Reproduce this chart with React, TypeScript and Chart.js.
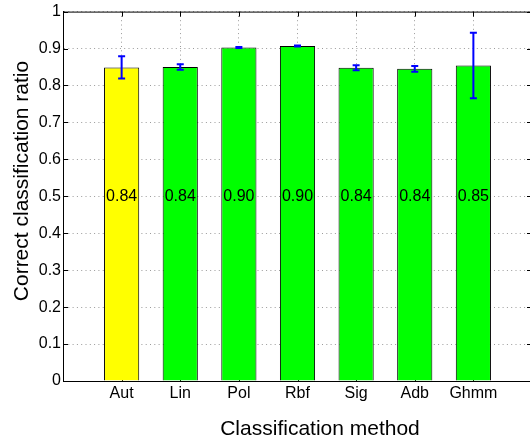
import React, { useEffect, useRef } from 'react';
import { Chart, registerables } from 'chart.js';

Chart.register(...registerables);

// ---- data ----
const categories = ['Aut', 'Lin', 'Pol', 'Rbf', 'Sig', 'Adb', 'Ghmm'];
const ratios = [0.849, 0.850, 0.903, 0.907, 0.848, 0.845, 0.854];
const errors = [0.030, 0.0075, 0.0015, 0.0015, 0.007, 0.0075, 0.0885];
const valueLabels = ['0.84', '0.84', '0.90', '0.90', '0.84', '0.84', '0.85'];
const barColors = ['#ffff00', '#00ff00', '#00ff00', '#00ff00', '#00ff00', '#00ff00', '#00ff00'];
const xTitle = 'Classification method';
const yTitle = 'Correct classification ratio';
const labelLevel = 0.5;

const FONT = '"Liberation Sans", Arial, Helvetica, sans-serif';

const framePlugin = {
  id: 'matlabFrame',
  beforeDatasetsDraw(chart: any) {
    const { ctx, chartArea, scales } = chart;
    const { left, right, top, bottom } = chartArea;
    const xs = scales.x;
    const ys = scales.y;
    const tl = 5;
    ctx.save();
    ctx.strokeStyle = '#000';
    ctx.lineWidth = 1;
    ctx.beginPath();
    ctx.moveTo(left, top + 0.5);
    ctx.lineTo(right, top + 0.5);
    ctx.moveTo(right - 0.5, top);
    ctx.lineTo(right - 0.5, bottom);
    xs.ticks.forEach((t: any) => {
      const px = Math.round(xs.getPixelForValue(t.value)) + 0.5;
      ctx.moveTo(px, top);
      ctx.lineTo(px, top + tl);
      ctx.moveTo(px, bottom);
      ctx.lineTo(px, bottom - tl);
    });
    ys.ticks.forEach((t: any) => {
      const py = Math.round(ys.getPixelForValue(t.value)) + 0.5;
      ctx.moveTo(left, py);
      ctx.lineTo(left + tl, py);
      ctx.moveTo(right, py);
      ctx.lineTo(right - tl, py);
    });
    ctx.stroke();
    ctx.restore();
  },
  afterDatasetsDraw(chart: any) {
    const { ctx, scales } = chart;
    const xs = scales.x;
    const ys = scales.y;
    ctx.save();
    // error bars
    ctx.strokeStyle = '#0000ff';
    ctx.lineWidth = 2;
    const cap = 3.5;
    ratios.forEach((v, i) => {
      const px = xs.getPixelForValue(i + 1);
      const hi = ys.getPixelForValue(v + errors[i]);
      const lo = ys.getPixelForValue(v - errors[i]);
      ctx.beginPath();
      ctx.moveTo(px, hi);
      ctx.lineTo(px, lo);
      ctx.moveTo(px - cap, hi);
      ctx.lineTo(px + cap, hi);
      ctx.moveTo(px - cap, lo);
      ctx.lineTo(px + cap, lo);
      ctx.stroke();
    });
    // value labels
    ctx.fillStyle = '#000';
    ctx.font = `16px ${FONT}`;
    ctx.textAlign = 'center';
    ctx.textBaseline = 'middle';
    valueLabels.forEach((s, i) => {
      ctx.fillText(s, xs.getPixelForValue(i + 1), ys.getPixelForValue(labelLevel));
    });
    ctx.restore();
  },
  afterDraw(chart: any) {
    const { ctx } = chart;
    ctx.save();
    ctx.fillStyle = '#000';
    ctx.font = `21px ${FONT}`;
    ctx.textAlign = 'center';
    ctx.textBaseline = 'alphabetic';
    ctx.fillText(xTitle, 320, 435);
    ctx.translate(27.5, 181);
    ctx.rotate(-Math.PI / 2);
    ctx.fillText(yTitle, 0, 0);
    ctx.restore();
  },
};

export default function App() {
  const canvasRef = useRef<HTMLCanvasElement | null>(null);

  useEffect(() => {
    const canvas = canvasRef.current;
    if (!canvas) return;
    const gridColor = '#9a9a9a';
    const chart = new Chart(canvas, {
      type: 'bar',
      data: {
        datasets: [
          {
            data: ratios.map((v, i) => ({ x: i + 1, y: v })),
            backgroundColor: barColors,
            borderColor: '#000000',
            borderWidth: 1,
            barPercentage: 0.6,
            categoryPercentage: 1,
          },
        ],
      },
      options: {
        animation: false,
        responsive: false,
        devicePixelRatio: 1,
        layout: { padding: { top: 11, right: 0, left: 0, bottom: 0 } },
        plugins: {
          legend: { display: false },
          tooltip: { enabled: false },
        },
        scales: {
          x: {
            type: 'linear',
            min: 0,
            max: 8,
            offset: false,
            grid: {
              offset: false,
              drawTicks: false,
              color: gridColor,
              lineWidth: 1,
            },
            border: { display: true, color: '#000', width: 1, dash: [1, 3.3] },
            ticks: {
              stepSize: 1,
              autoSkip: false,
              maxRotation: 0,
              padding: 3,
              color: '#000',
              font: { family: FONT, size: 16 },
              callback: (v: any) => {
                const i = Number(v) - 1;
                return i >= 0 && i < categories.length ? categories[i] : '';
              },
            },
            afterFit: (scale: any) => {
              scale.height = 60;
            },
          },
          y: {
            min: 0,
            max: 1,
            grid: {
              drawTicks: false,
              color: gridColor,
              lineWidth: 1,
            },
            border: { display: true, color: '#000', width: 1, dash: [1, 3.3] },
            ticks: {
              stepSize: 0.1,
              padding: 2,
              color: '#000',
              font: { family: FONT, size: 16 },
              callback: (v: any) => String(Number(Number(v).toFixed(1))),
            },
            afterFit: (scale: any) => {
              scale.width = 63;
            },
          },
        },
      },
      plugins: [framePlugin],
    } as any);
    return () => {
      chart.destroy();
    };
  }, []);

  return (
    <div
      style={{
        position: 'absolute',
        left: 0,
        top: 0,
        width: 530,
        height: 441,
        overflow: 'hidden',
        background: '#ffffff',
      }}
    >
      <canvas ref={canvasRef} width={535} height={441} style={{ display: 'block' }} />
    </div>
  );
}
